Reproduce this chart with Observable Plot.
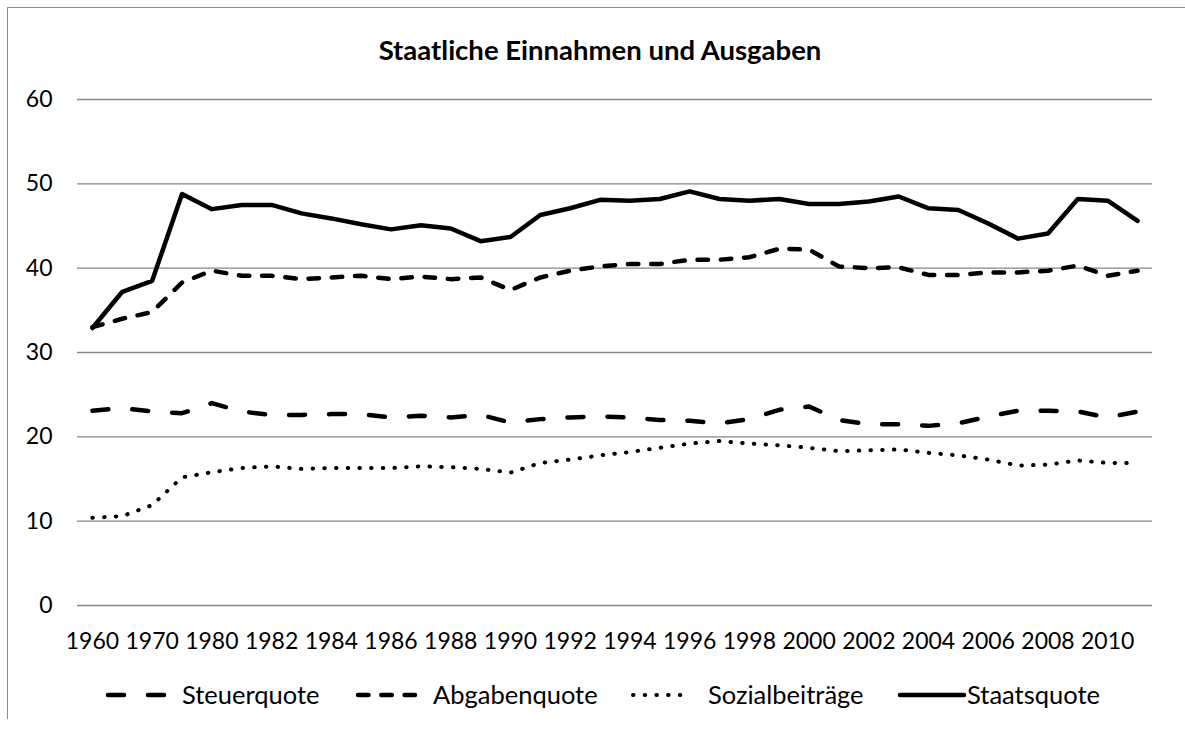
<!DOCTYPE html>
<html>
<head>
<meta charset="utf-8">
<script src="https://cdn.jsdelivr.net/npm/d3@7"></script>
<script src="https://cdn.jsdelivr.net/npm/@observablehq/plot@0.6"></script>
<style>
  html, body { margin: 0; padding: 0; background: #fff; }
  body { width: 1185px; height: 731px; position: relative; overflow: hidden; font-family: Lato, "Open Sans", sans-serif; }
  #frame { position: absolute; left: 7px; top: 7px; width: 1200px; height: 711px; border-left: 1.3px solid #8c8c8c; border-top: 1.3px solid #8c8c8c; }
  #title { position: absolute; left: 0; top: 34px; width: 1200px; text-align: center; font-weight: bold; font-size: 27.5px; line-height: 32px; color: #000; }
  #chart { position: absolute; left: 0; top: 60px; }
  #legend { position: absolute; left: 0; top: 675px; }
</style>
</head>
<body>
<div id="frame"></div>
<div id="title">Staatliche Einnahmen und Ausgaben</div>
<div id="chart"></div>
<div id="legend"></div>
<script>
const categories = ["1960","1965","1970","1975","1980","1981","1982","1983","1984","1985","1986","1987",
  "1988","1989","1990","1991","1992","1993","1994","1995","1996","1997","1998","1999",
  "2000","2001","2002","2003","2004","2005","2006","2007","2008","2009","2010","2011"];
const xTickLabels = ["1960","1970","1980","1982","1984","1986","1988","1990","1992","1994","1996","1998",
  "2000","2002","2004","2006","2008","2010"];
const yTicks = [0, 10, 20, 30, 40, 50, 60];

const steuerquote = [23.1, 23.4, 23.0, 22.8, 24.0, 23.0, 22.6, 22.6, 22.7, 22.7, 22.3, 22.5,
  22.3, 22.6, 21.7, 22.1, 22.3, 22.4, 22.3, 22.0, 21.9, 21.6, 22.1, 23.2,
  23.6, 22.0, 21.5, 21.5, 21.3, 21.6, 22.4, 23.1, 23.1, 23.0, 22.3, 23.0];
const abgabenquote = [33.0, 34.0, 34.8, 38.3, 39.7, 39.1, 39.1, 38.7, 38.9, 39.1, 38.7, 39.0,
  38.7, 38.9, 37.4, 38.9, 39.7, 40.2, 40.5, 40.5, 41.0, 41.0, 41.3, 42.3,
  42.2, 40.2, 40.0, 40.1, 39.2, 39.2, 39.5, 39.5, 39.7, 40.3, 39.1, 39.7];
const sozialbeitraege = [10.4, 10.6, 11.9, 15.2, 15.8, 16.3, 16.5, 16.2, 16.3, 16.3, 16.3, 16.5,
  16.4, 16.2, 15.75, 16.9, 17.3, 17.8, 18.2, 18.7, 19.2, 19.5, 19.2, 19.0,
  18.7, 18.3, 18.4, 18.5, 18.1, 17.8, 17.3, 16.6, 16.7, 17.2, 16.9, 16.9];
const staatsquote = [32.9, 37.2, 38.5, 48.8, 47.0, 47.5, 47.5, 46.5, 45.9, 45.2, 44.6, 45.1,
  44.7, 43.2, 43.7, 46.3, 47.1, 48.1, 48.0, 48.2, 49.1, 48.2, 48.0, 48.2,
  47.6, 47.6, 47.9, 48.5, 47.1, 46.9, 45.3, 43.5, 44.1, 48.2, 48.0, 45.6];

const seriesNames = ["Steuerquote", "Abgabenquote", "Sozialbeiträge", "Staatsquote"];
const seriesValues = [steuerquote, abgabenquote, sozialbeitraege, staatsquote];
const seriesStyles = [
  {strokeWidth: 4.5, strokeDasharray: "16,24"},
  {strokeWidth: 4.5, strokeDasharray: "10.5,12.8"},
  {strokeWidth: 4, strokeDasharray: "0.5,11.2"},
  {strokeWidth: 4.5, strokeDasharray: null}
];

const rows = seriesNames.flatMap((name, s) =>
  categories.map((c, i) => ({series: name, year: c, value: seriesValues[s][i]})));

const lineMarks = seriesNames.map((name, s) =>
  Plot.line(rows.filter(d => d.series === name), {
    x: "year", y: "value", stroke: "#000",
    strokeWidth: seriesStyles[s].strokeWidth,
    strokeDasharray: seriesStyles[s].strokeDasharray,
    strokeLinecap: "round", strokeLinejoin: "round"
  }));

const chart = Plot.plot({
  width: 1185,
  height: 596,
  marginLeft: 77,
  marginRight: 33,
  marginTop: 39,
  marginBottom: 51,
  style: {fontFamily: "Lato, 'Open Sans', sans-serif", fontSize: "23px", color: "#000", background: "transparent"},
  x: {type: "point", domain: categories, padding: 0.5},
  y: {domain: [0, 60]},
  marks: [
    Plot.ruleY(yTicks, {stroke: "#868686", strokeWidth: 1.3}),
    ...lineMarks,
    Plot.axisX({ticks: xTickLabels, tickSize: 0, tickPadding: 27, fontSize: 23, label: null}),
    Plot.axisY({ticks: yTicks, tickSize: 0, tickPadding: 25, fontSize: 23, label: null})
  ]
});
document.getElementById("chart").appendChild(chart);

// Legend
const legendItems = [
  {x1: 106, x2: 167, tx: 182},
  {x1: 356, x2: 417, tx: 433},
  {x1: 631, x2: 693, tx: 708},
  {x1: 898, x2: 966, tx: 967}
];
const ns = "http://www.w3.org/2000/svg";
const lsvg = document.createElementNS(ns, "svg");
lsvg.setAttribute("width", 1185);
lsvg.setAttribute("height", 44);
const ly = 20;
seriesNames.forEach((name, s) => {
  const it = legendItems[s];
  const ln = document.createElementNS(ns, "line");
  ln.setAttribute("x1", it.x1 + 2); ln.setAttribute("x2", it.x2 - 2);
  ln.setAttribute("y1", ly); ln.setAttribute("y2", ly);
  ln.setAttribute("stroke", "#000");
  ln.setAttribute("stroke-width", seriesStyles[s].strokeWidth);
  ln.setAttribute("stroke-linecap", "round");
  if (seriesStyles[s].strokeDasharray) ln.setAttribute("stroke-dasharray", seriesStyles[s].strokeDasharray);
  lsvg.appendChild(ln);
  const t = document.createElementNS(ns, "text");
  t.setAttribute("x", it.tx); t.setAttribute("y", ly);
  t.setAttribute("dy", "0.35em");
  t.setAttribute("font-family", "Lato, 'Open Sans', sans-serif");
  t.setAttribute("font-size", "25.5");
  t.setAttribute("fill", "#000");
  t.textContent = name;
  lsvg.appendChild(t);
});
document.getElementById("legend").appendChild(lsvg);
</script>
</body>
</html>
